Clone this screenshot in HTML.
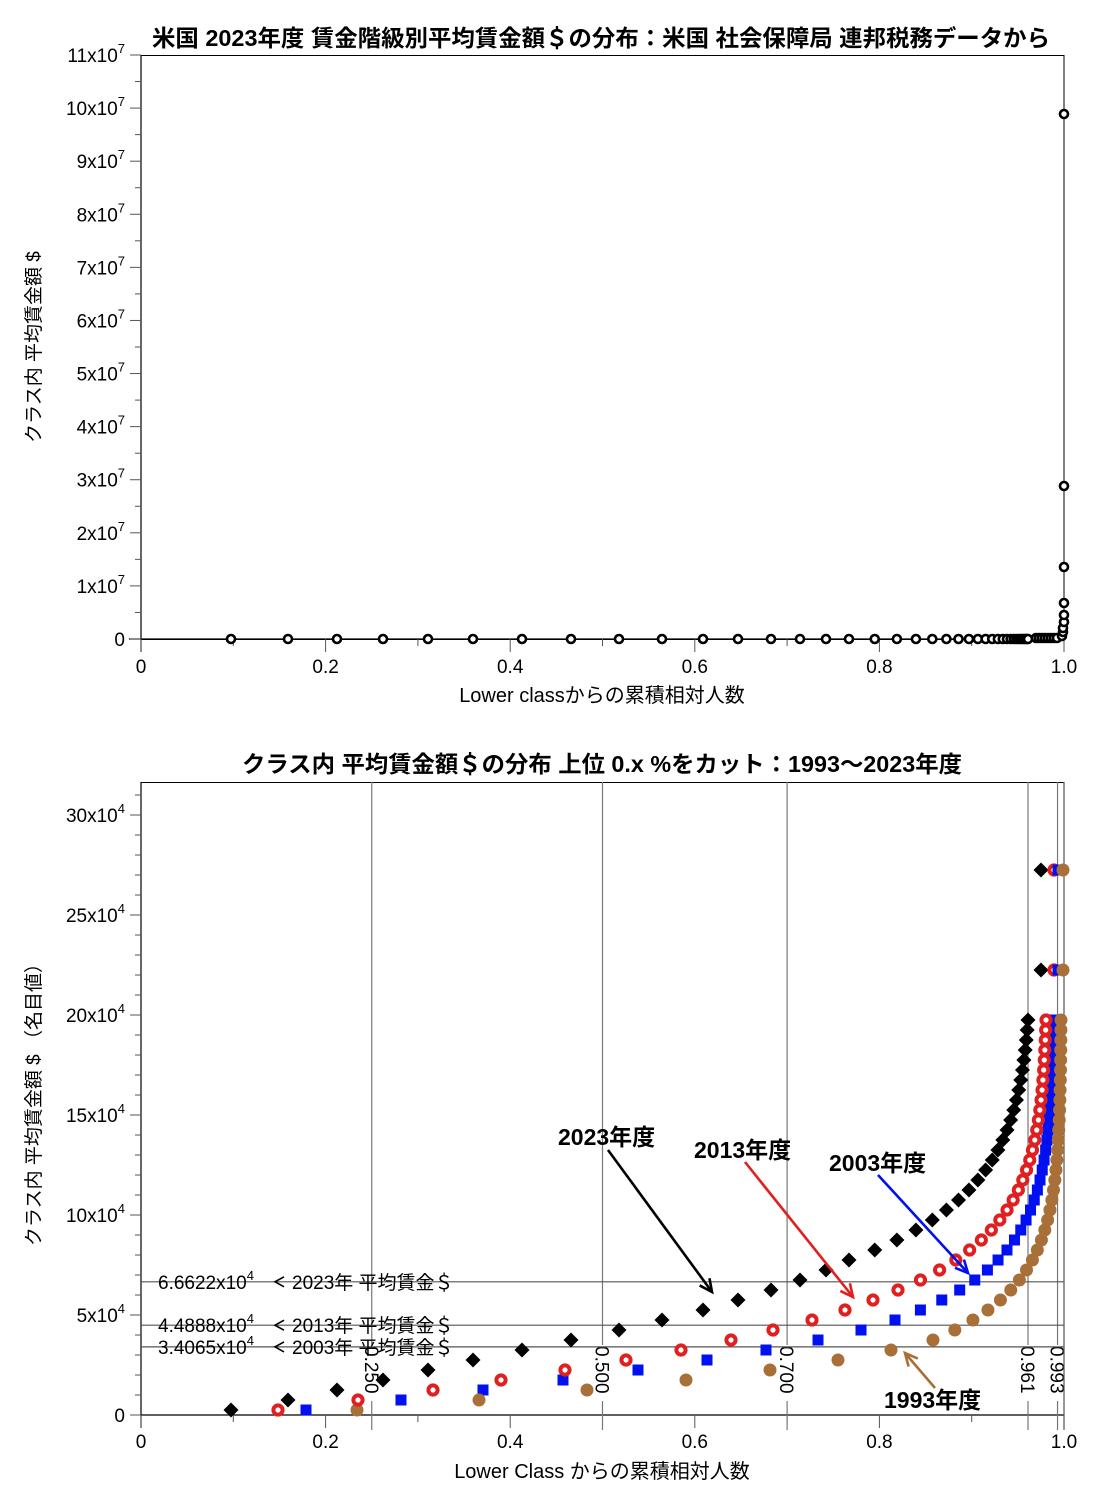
<!DOCTYPE html>
<html><head><meta charset="utf-8"><style>
body{margin:0;background:#fff;width:1102px;height:1510px;overflow:hidden}
svg{display:block}
text{font-family:"Liberation Sans","Noto Sans CJK JP",sans-serif;fill:#000}
</style></head><body>
<svg id="s" width="1102" height="1510" xmlns="http://www.w3.org/2000/svg"></svg>
<script>
const s=document.getElementById('s');let h='';
const X0=141,X1=1064;
function geo(start,n,end,r){
  let a=start.slice();let last=a[a.length-1];let m=n-a.length;let sum=0;for(let i=1;i<=m;i++)sum+=Math.pow(r,i);
  let d=(end-last)/sum;for(let i=1;i<=m;i++){last+=d*Math.pow(r,i);a.push(last);}return a;}
// ===== TOP CHART =====
h+='<text x="601" y="46" font-size="23" font-weight="bold" text-anchor="middle" textLength="898" lengthAdjust="spacingAndGlyphs">米国 2023年度 賃金階級別平均賃金額＄の分布：米国 社会保障局 連邦税務データから</text>';
h+='<rect x="141" y="55.5" width="923" height="584" fill="none" stroke="#000" stroke-width="1"/>';
h+='<line x1="129" y1="639" x2="1064" y2="639" stroke="#000" stroke-width="1.2"/>';
h+='<line x1="141" y1="55" x2="141" y2="652" stroke="#000" stroke-width="1.2"/>';
const tY=v=>639-v*(584/11);
for(let i=0;i<=11;i++){let y=tY(i);h+=`<line x1="130" y1="${y}" x2="141" y2="${y}" stroke="#555"/>`;
 h+=`<text x="125" y="${y+7}" font-size="19" text-anchor="end">${i==0?'0':i+'x10<tspan font-size="13" dy="-9">7</tspan>'}</text>`;
 if(i<11){let y2=tY(i+0.5);h+=`<line x1="135" y1="${y2}" x2="141" y2="${y2}" stroke="#555"/>`;}}
const tX=v=>X0+v*(X1-X0);
for(let i=0;i<=10;i++){let x=tX(i/10);h+=`<line x1="${x}" y1="639" x2="${x}" y2="${i%2?646:652}" stroke="#555"/>`;
 if(i%2==0)h+=`<text x="${x}" y="673" font-size="19" text-anchor="middle">${i==0?'0':i==10?'1.0':(i/10).toFixed(1)}</text>`;}
h+='<text x="602" y="702" font-size="20" text-anchor="middle">Lower classからの累積相対人数</text>';
h+='<text transform="translate(40,347) rotate(-90)" font-size="19" text-anchor="middle">クラス内 平均賃金額  $</text>';
const x23=geo([231,288,337,383,428,473,522,571,619,662,703,738,771,800,826,849],40,1028,0.86);
let tp=x23.map(x=>[x,639]);
for(let x=1036;x<1060;x+=3)tp.push([x,638]);
[[1062,636],[1063,632],[1063,628],[1064,622],[1064,615],[1064,603],[1064,567],[1064,486],[1064,114]].forEach(p=>tp.push(p));
tp.forEach(p=>h+=`<circle cx="${p[0]}" cy="${p[1]}" r="4" fill="#fff" stroke="#000" stroke-width="2.6"/>`);
// ===== BOTTOM CHART =====
h+='<text x="602" y="772" font-size="23" font-weight="bold" text-anchor="middle" textLength="720" lengthAdjust="spacingAndGlyphs">クラス内 平均賃金額＄の分布 上位 0.x %をカット：1993〜2023年度</text>';
h+='<line x1="141" y1="782.5" x2="1064" y2="782.5" stroke="#000"/>';
h+='<line x1="141" y1="782" x2="141" y2="1428" stroke="#000" stroke-width="1.2"/>';
h+='<line x1="141" y1="1415" x2="1064" y2="1415" stroke="#000" stroke-width="1.2"/>';
const bY=v=>1415-v*20;
for(let i=0;i<=31;i++){let y=bY(i);let maj=i%5==0;h+=`<line x1="${maj?130:135}" y1="${y}" x2="141" y2="${y}" stroke="#555"/>`;
 if(maj)h+=`<text x="125" y="${y+7}" font-size="19" text-anchor="end">${i==0?'0':i+'x10<tspan font-size="13" dy="-9">4</tspan>'}</text>`;}
for(let i=0;i<=10;i++){let x=tX(i/10);h+=`<line x1="${x}" y1="1415" x2="${x}" y2="${i%2?1422:1428}" stroke="#555"/>`;
 if(i%2==0)h+=`<text x="${x}" y="1448" font-size="19" text-anchor="middle">${i==0?'0':i==10?'1.0':(i/10).toFixed(1)}</text>`;}
h+='<text x="602" y="1478" font-size="20" text-anchor="middle">Lower Class からの累積相対人数</text>';
h+='<text transform="translate(40,1100) rotate(-90)" font-size="19" text-anchor="middle">クラス内 平均賃金額  $ （名目値）</text>';
[[0.25,'0.250'],[0.5,'0.500'],[0.7,'0.700'],[0.961,'0.961'],[0.993,'0.993']].forEach(v=>{let x=tX(v[0]);
 h+=`<line x1="${x}" y1="782" x2="${x}" y2="1430" stroke="#777" stroke-width="1.2"/>`;
 h+=`<rect x="${x-7}" y="1345" width="14" height="56" fill="#fff"/>`;
 h+=`<text transform="translate(${x-7},1346) rotate(90)" font-size="19">${v[1]}</text>`;});
h+='<line x1="1064" y1="782" x2="1064" y2="1430" stroke="#555" stroke-width="1.2"/>';
[[1281.8,'6.6622','2023'],[1325.2,'4.4888','2013'],[1346.9,'3.4065','2003']].forEach(m=>{
 h+=`<line x1="141" y1="${m[0]}" x2="1064" y2="${m[0]}" stroke="#555" stroke-width="1.2"/>`;
 h+=`<text x="158" y="${m[0]+7}" font-size="19">${m[1]}x10<tspan font-size="13" dy="-9">4</tspan></text>`;
 h+=`<polyline points="${284},${m[0]-5} ${275},${m[0]} ${284},${m[0]+5}" fill="none" stroke="#000" stroke-width="1.6"/>`;
 h+=`<text x="292" y="${m[0]+7}" font-size="19">${m[2]}年 平均賃金＄</text>`;});
const ys=[];for(let k=0;k<40;k++)ys.push(bY(0.25+0.5*k));
const x13=geo([278,358,433,501,565,626,681,731,773,812,845,873,898],40,1046,0.85);
const x03=geo([306,401,483,563,638,707,766,818,861,895],40,1053,0.84);
const x93=geo([357,479,587,686,770,838,891,933],40,1061,0.83);
function diam(x,y){return `<path d="M${x} ${y-7.5}L${x+7.5} ${y}L${x} ${y+7.5}L${x-7.5} ${y}Z" fill="#000"/>`;}
function ring(x,y){return `<circle cx="${x}" cy="${y}" r="4.6" fill="#fff" stroke="#e02020" stroke-width="4"/>`;}
function sq(x,y){return `<rect x="${x-5.5}" y="${y-5.5}" width="11" height="11" fill="#0010f0"/>`;}
function dot(x,y){return `<circle cx="${x}" cy="${y}" r="6.5" fill="#a87038"/>`;}
for(let k=0;k<40;k++)h+=sq(x03[k],ys[k]);
for(let k=0;k<40;k++)h+=dot(x93[k],ys[k]);
for(let k=0;k<40;k++)h+=ring(x13[k],ys[k]);
for(let k=0;k<40;k++)h+=diam(x23[k],ys[k]);
[bY(22.25),bY(27.25)].forEach(y=>{h+=diam(1041,y);h+=ring(1054,y);h+=sq(1058,y);h+=dot(1063,y);});
function arrow(x1,y1,x2,y2,c){let a=Math.atan2(y2-y1,x2-x1),L=14,w=0.45;
 return `<line x1="${x1}" y1="${y1}" x2="${x2}" y2="${y2}" stroke="${c}" stroke-width="2.6"/><polyline points="${x2-L*Math.cos(a-w)},${y2-L*Math.sin(a-w)} ${x2},${y2} ${x2-L*Math.cos(a+w)},${y2-L*Math.sin(a+w)}" fill="none" stroke="${c}" stroke-width="2.6"/>`;}
h+='<text x="558" y="1145" font-size="23" font-weight="bold">2023年度</text>'+arrow(608,1150,712,1292,'#000');
h+='<text x="694" y="1158" font-size="23" font-weight="bold">2013年度</text>'+arrow(745,1162,853,1297,'#e02020');
h+='<text x="829" y="1171" font-size="23" font-weight="bold">2003年度</text>'+arrow(878,1175,968,1273,'#0010f0');
h+='<text x="884" y="1408" font-size="23" font-weight="bold">1993年度</text>'+arrow(935,1388,905,1353,'#a87038');
s.innerHTML=h;
</script>
</body></html>
